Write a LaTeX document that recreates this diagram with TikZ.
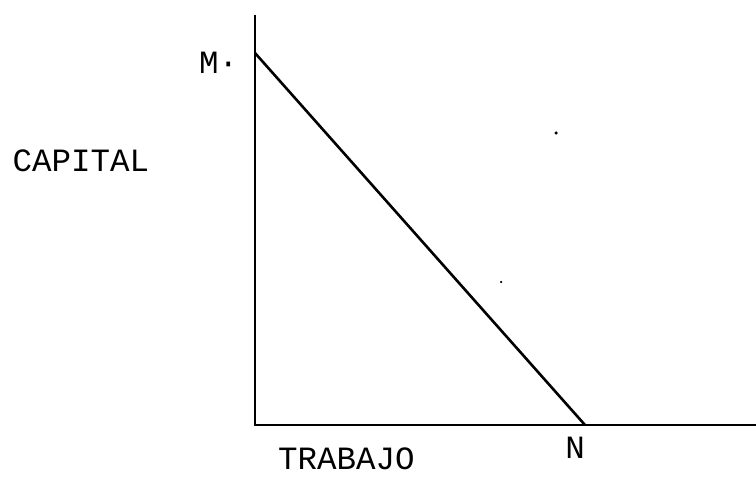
\documentclass[tikz,border=0pt]{standalone}
\usepackage{fontspec}
\setmonofont{Liberation Mono}
\begin{document}
\begin{tikzpicture}[x=1pt,y=-1pt,
  lbl/.style={font=\ttfamily\fontsize{32.5}{32.5}\selectfont, inner sep=0pt, text height=20pt, text depth=0pt},
  axisline/.style={line width=2.8pt},
  budget/.style={line width=2.6pt},
  speck/.style={fill=black, circle, inner sep=0pt, minimum size=3.5pt}]
\useasboundingbox (0,0) rectangle (756,478);
\coordinate (top) at (255,15);
\coordinate (O) at (255,425);
\coordinate (Mpt) at (255,53);
\coordinate (Npt) at (585,425);
\coordinate (right) at (756,425);
\draw[axisline] (top) -- (O) -- (right);
\draw[budget] (Mpt) -- (Npt);
\node[lbl, anchor=west] (M) at (199,64) {M·};
\node[lbl] (capital) at (81,162) {CAPITAL};
\node[lbl, anchor=west] (trabajo) at (278,460) {TRABAJO};
\node[lbl] (N) at (575,449) {N};
\node[speck] (s1) at (556,133) {};
\node[speck, minimum size=2.5pt] (s2) at (501,282) {};
\end{tikzpicture}
\end{document}
